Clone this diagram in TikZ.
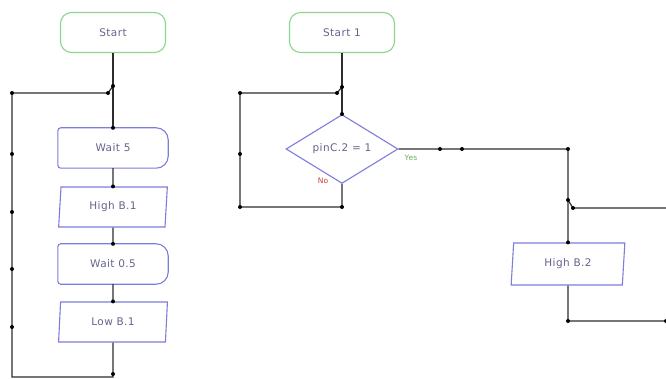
\documentclass[tikz,border=0pt]{standalone}
\usepackage{fontspec}
\newfontfamily\fcfont[LetterSpace=4]{DejaVu Sans}
\usetikzlibrary{shapes.geometric,calc}
\definecolor{termc}{RGB}{140,215,140}
\definecolor{procc}{RGB}{125,125,220}
\definecolor{txtc}{RGB}{100,100,140}
\definecolor{linec}{RGB}{45,45,45}
\definecolor{yesc}{RGB}{110,170,90}
\definecolor{noc}{RGB}{205,60,60}
\begin{document}
\begin{tikzpicture}[x=1pt,y=-1pt,
 every node/.style={font=\fcfont\fontsize{10.5}{12}\selectfont, text=txtc},
 term/.style={draw=termc, line width=1.1pt, rounded corners=11pt, minimum width=105pt, minimum height=40pt, inner sep=0pt},
 delaybox/.style={minimum width=110pt, minimum height=40pt, inner sep=0pt},
 delayline/.style={draw=procc, line width=1.1pt},
 iobox/.style={draw=procc, line width=1.1pt, trapezium, trapezium left angle=84, trapezium right angle=96, trapezium stretches=true, minimum width=109pt, minimum height=40pt, inner sep=0pt},
 decis/.style={draw=procc, line width=1.1pt, diamond, minimum width=112pt, minimum height=47pt, inner sep=0pt},
 conn/.style={draw=linec, line width=1.2pt},
 dot/.style={circle, fill=black, inner sep=0pt, minimum size=4pt},
 lbl/.style={font=\fcfont\fontsize{7.5}{9}\selectfont},
]
\fill[white] (0,0) rectangle (666,379);
\useasboundingbox (0,0) rectangle (666,379);

% ---------- left flow ----------
\node[term] (s0) at (113,32.5) {Start};
\node[delaybox] (w5) at (113,148) {Wait 5};
\node[iobox] (hb1) at (113,207) {High B.1};
\node[delaybox] (w05) at (113,264) {Wait 0.5};
\node[iobox] (lb1) at (113,322) {Low B.1};

\foreach \n in {w5,w05}{
  \draw[delayline,rounded corners=3pt] (\n.north) -- (\n.north west) -- (\n.south west) -- (\n.south)
    [rounded corners=12pt] -- (\n.south east) -- (\n.north east) -- cycle;
}

\coordinate (j0a) at (113,86);
\coordinate (j0b) at (108,93);
\coordinate (l0) at (12,93);
\coordinate (lbl0) at (12,377);
\coordinate (bb) at (113,377);

\draw[conn] (s0.south) -- (j0a) -- (w5.north);
\draw[conn] (w5.south) -- (hb1.north);
\draw[conn] (hb1.south) -- (w05.north);
\draw[conn] (w05.south) -- (lb1.north);
\draw[conn] (lb1.south) -- (bb) -- (lbl0) -- (l0) -- (j0b) -- (j0a);

\foreach \p in {j0a,j0b,l0,w5.north,hb1.north,w05.north,lb1.north}{
  \node[dot] at (\p) {};
}
\foreach \y in {154,212,269,327}{
  \node[dot] at (12,\y) {};
}
\node[dot] at (113,374) {};

% ---------- right flow ----------
\node[term] (s1) at (342,32.5) {Start 1};
\node[decis] (d) at (342,149) {pinC.2 = 1};
\node[iobox, minimum width=114pt, minimum height=42pt] (hb2) at (568,264) {High B.2};

\coordinate (j1a) at (342,87);
\coordinate (j1b) at (337,93);
\coordinate (r0) at (240,93);
\coordinate (rb) at (240,207);
\coordinate (rbb) at (342,207);
\coordinate (c1) at (568,149);
\coordinate (j2a) at (568,200);
\coordinate (j2b) at (573,208);
\coordinate (e1) at (666,208);
\coordinate (c2) at (568,321);
\coordinate (e2) at (666,321);
\coordinate (y1) at (440,149);
\coordinate (y2) at (462,149);

\draw[conn] (s1.south) -- (j1a) -- (d.north);
\draw[conn] (d.south) -- (rbb) -- (rb) -- (r0) -- (j1b) -- (j1a);
\draw[conn] (d.east) -- (y1) -- (y2) -- (c1) -- (j2a) -- (hb2.north);
\draw[conn] (j2a) -- (j2b) -- (e1);
\draw[conn] (hb2.south) -- (c2) -- (e2);

\foreach \p in {j1a,j1b,r0,rb,rbb,d.north,y1,y2,c1,j2a,j2b,hb2.north,c2,e2}{
  \node[dot] at (\p) {};
}
\node[dot] at (240,154) {};

\node[lbl, text=yesc] (yes) at (411,158) {Yes};
\node[lbl, text=noc] (no) at (323,181) {No};
\end{tikzpicture}
\end{document}
